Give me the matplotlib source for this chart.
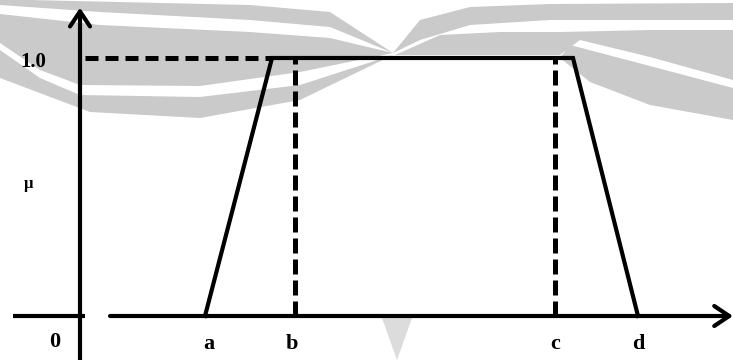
import numpy as np
import matplotlib.pyplot as plt
from matplotlib.patches import Polygon

# trapezoid membership function (x in drawing units, mu in [0, 1])
trap_x = [125, 192, 493, 558]
trap_mu = [0, 1, 1, 0]
b_pos = 215
c_pos = 475
point_labels = ["a", "b", "c", "d"]
label_x = [129, 212, 475, 558]

plt.rcParams['font.family'] = ['Liberation Serif', 'DejaVu Serif']

fig = plt.figure(figsize=(7.33, 3.6), dpi=100)

# faint watermark in the background (pixel coordinates)
bg = fig.add_axes([0, 0, 1, 1])
bg.set_xlim(0, 733)
bg.set_ylim(360, 0)
bg.axis('off')
wm = '#cacaca'
bands = [
    # left side
    [(0, 0), (30, 0), (250, 5), (330, 12), (393, 53), (330, 27), (250, 20), (100, 12), (0, 5)],
    [(0, 14), (100, 25), (250, 32), (330, 38), (393, 53), (300, 72), (200, 86), (80, 85), (40, 70), (0, 43)],
    [(0, 50), (40, 78), (80, 95), (200, 97), (300, 85), (393, 55), (300, 100), (200, 118), (90, 112), (0, 78)],
    # right side
    [(393, 53), (420, 20), (470, 7), (550, 4), (733, 3), (733, 20), (600, 20), (550, 20), (470, 25), (420, 40)],
    [(395, 55), (440, 35), (500, 32), (560, 32), (650, 30), (733, 30), (733, 80), (650, 57), (580, 40), (560, 55)],
    [(570, 45), (650, 66), (733, 88), (733, 120), (650, 105), (590, 82), (560, 58)],
]
for pts in bands:
    bg.add_patch(Polygon(pts, closed=True, facecolor=wm, edgecolor='none'))
bg.add_patch(Polygon([(382, 318), (412, 318), (397, 360)], closed=True, facecolor='#dcdcdc', edgecolor='none'))

# main drawing axes: x=0 at pixel 80, mu=0 at pixel 316, mu=1 at pixel 58
ax = fig.add_axes([0, 0, 1, 1])
ax.patch.set_alpha(0)
ax.set_xlim(-80, 653)
ax.set_ylim(-44 / 258, 1 + 58 / 258)
ax.axis('off')

lw = 3.0
arrow = dict(arrowstyle='->,head_length=0.9,head_width=0.6', lw=lw,
             color='black', shrinkA=0, shrinkB=0, mutation_scale=12)
# axes
ax.plot([-67, 5], [0, 0], color='black', lw=lw, solid_capstyle='butt')
ax.annotate('', xy=(653, 0), xytext=(30, 0), arrowprops=arrow)
ax.annotate('', xy=(0, 1.195), xytext=(0, -0.18), arrowprops=arrow)

# dashed guides
ax.plot([5, trap_x[1]], [1, 1], color='black', lw=3.6, dashes=(2.6, 1.4), dash_capstyle='butt')
ax.plot([b_pos, b_pos], [0, 1], color='black', lw=3.6, dashes=(3.0, 1.2), dash_capstyle='butt')
ax.plot([c_pos, c_pos], [0, 1], color='black', lw=3.6, dashes=(3.0, 1.2), dash_capstyle='butt')

# trapezoid
ax.plot(trap_x, trap_mu, color='black', lw=lw, solid_joinstyle='miter')

# labels
fs = 16
ax.text(-47, 0.985, "1.0", ha='center', va='center', fontsize=15, fontweight='bold')
ax.text(-52, 0.51, "\u00b5", ha='center', va='center', fontsize=12, fontweight='bold')
ax.text(-25, -0.1, "0", ha='center', va='center', fontsize=fs, fontweight='bold')
for lx, lab in zip(label_x, point_labels):
    ax.text(lx, -0.11, lab, ha='center', va='center', fontsize=fs, fontweight='bold')

fig.savefig("out.png", dpi=100)
